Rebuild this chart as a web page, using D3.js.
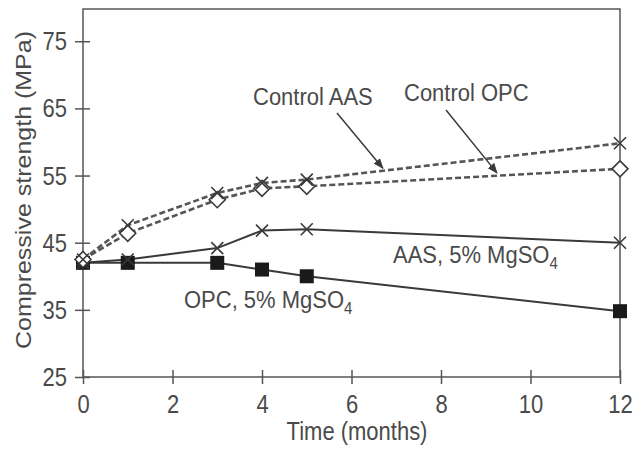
<!DOCTYPE html>
<html>
<head>
<meta charset="utf-8">
<script src="https://cdn.jsdelivr.net/npm/d3@7"></script>
<style>
  body { margin: 0; background: #fff; }
  text { font-family: "Liberation Sans", Arial, sans-serif; fill: #4a4a4a; }
</style>
</head>
<body>
<div id="chart"></div>
<script>
// data
var months = [0, 1, 3, 4, 5, 12];
var controlAAS = [42.5, 47.6, 52.4, 53.9, 54.4, 59.8];
var controlOPC = [42.5, 46.4, 51.4, 53.1, 53.4, 56];
var aasMgSO4 = [42, 42.5, 44.2, 46.8, 47, 45];
var opcMgSO4 = [42, 42, 42, 41, 40, 34.8];
var xTicks = [0, 2, 4, 6, 8, 10, 12];
var yTicks = [25, 35, 45, 55, 65, 75];

var width = 634, height = 449;
var stretch = 1.15; // the source image has slightly tall lettering

var svg = d3.select("#chart").append("svg")
  .attr("width", width)
  .attr("height", height);

var x = d3.scaleLinear().domain([0, 12]).range([83, 620]);
var y = d3.scaleLinear().domain([25, 79.8]).range([377, 9]);

var ink = "#3a3a3a";

// arrow head
svg.append("defs").append("marker")
  .attr("id", "arrow")
  .attr("viewBox", "0 0 10 10")
  .attr("refX", 9).attr("refY", 5)
  .attr("markerWidth", 7).attr("markerHeight", 7)
  .attr("orient", "auto")
  .append("path")
    .attr("d", "M0,1 L10,5 L0,9 z")
    .attr("fill", ink);

// frame
svg.append("rect")
  .attr("x", x(0)).attr("y", y(79.8))
  .attr("width", x(12) - x(0))
  .attr("height", y(25) - y(79.8))
  .attr("fill", "none")
  .attr("stroke", "#555")
  .attr("stroke-width", 1.5);

// X axis
var gx = svg.append("g")
  .attr("transform", "translate(0," + y(25) + ")")
  .call(d3.axisBottom(x).tickValues(xTicks).tickSizeOuter(0).tickSize(7));
gx.select(".domain").remove();
gx.selectAll(".tick line").attr("y1", -7).attr("y2", 7).attr("stroke", "#555").attr("stroke-width", 1.5);
gx.selectAll(".tick text")
  .attr("y", 18 / stretch).attr("dy", "0.71em")
  .attr("transform", "scale(1," + stretch + ")")
  .style("font-size", "22px")
  .style("font-family", "Liberation Sans, Arial, sans-serif")
  .attr("fill", "#4a4a4a");

// Y axis
var gy = svg.append("g")
  .attr("transform", "translate(" + x(0) + ",0)")
  .call(d3.axisLeft(y).tickValues(yTicks).tickSizeOuter(0).tickSize(8));
gy.select(".domain").remove();
gy.selectAll(".tick line").attr("x1", -8).attr("x2", 7).attr("stroke", "#555").attr("stroke-width", 1.5);
gy.selectAll(".tick text")
  .attr("x", -16).attr("dy", "0.34em")
  .attr("transform", "scale(1," + stretch + ")")
  .style("font-size", "22px")
  .style("font-family", "Liberation Sans, Arial, sans-serif")
  .attr("fill", "#4a4a4a");

// axis titles
svg.append("text")
  .attr("transform", "translate(357,440) scale(1," + stretch + ")")
  .attr("text-anchor", "middle")
  .style("font-size", "22px")
  .text("Time (months)");

svg.append("text")
  .attr("transform", "translate(31,190) rotate(-90)")
  .attr("text-anchor", "middle")
  .attr("textLength", 318)
  .attr("lengthAdjust", "spacingAndGlyphs")
  .style("font-size", "22px")
  .text("Compressive strength (MPa)");

function pts(vals) {
  return months.map(function(m, i) { return { t: m, v: vals[i] }; });
}
var line = d3.line()
  .x(function(d) { return x(d.t); })
  .y(function(d) { return y(d.v); });

// solid lines
[opcMgSO4, aasMgSO4].forEach(function(vals) {
  svg.append("path")
    .datum(pts(vals))
    .attr("fill", "none")
    .attr("stroke", ink)
    .attr("stroke-width", 2)
    .attr("d", line);
});

// dashed lines
[controlOPC, controlAAS].forEach(function(vals) {
  svg.append("path")
    .datum(pts(vals))
    .attr("fill", "none")
    .attr("stroke", "#555")
    .attr("stroke-width", 2.6)
    .attr("stroke-dasharray", "6,3")
    .attr("d", line);
});

// squares
svg.selectAll(".sq")
  .data(pts(opcMgSO4))
  .enter().append("rect")
    .attr("x", function(d) { return x(d.t) - 7; })
    .attr("y", function(d) { return y(d.v) - 7; })
    .attr("width", 14).attr("height", 14)
    .attr("fill", "#1a1a1a");

// crosses
function crosses(vals) {
  svg.selectAll(null)
    .data(pts(vals))
    .enter().append("path")
      .attr("transform", function(d) { return "translate(" + x(d.t) + "," + y(d.v) + ")"; })
      .attr("d", "M-6,-6L6,6M-6,6L6,-6")
      .attr("stroke", ink)
      .attr("stroke-width", 1.6)
      .attr("fill", "none");
}
crosses(aasMgSO4);

// diamonds
svg.selectAll(".dm")
  .data(pts(controlOPC))
  .enter().append("path")
    .attr("transform", function(d) { return "translate(" + x(d.t) + "," + y(d.v) + ")"; })
    .attr("d", "M0,-8L8,0L0,8L-8,0Z")
    .attr("fill", "#fff")
    .attr("stroke", ink)
    .attr("stroke-width", 1.6);

crosses(controlAAS);

// annotations
function label(px, py, str) {
  return svg.append("text")
    .attr("transform", "translate(" + px + "," + py + ") scale(1,1.1)")
    .style("font-size", "22px")
    .text(str);
}
label(253, 105, "Control AAS");
label(404, 101, "Control OPC");

svg.append("line")
  .attr("x1", 337).attr("y1", 113)
  .attr("x2", x(6.7)).attr("y2", y(56.1))
  .attr("stroke", ink).attr("stroke-width", 1.5)
  .attr("marker-end", "url(#arrow)");
svg.append("line")
  .attr("x1", 446).attr("y1", 110)
  .attr("x2", x(9.25)).attr("y2", y(55.4))
  .attr("stroke", ink).attr("stroke-width", 1.5)
  .attr("marker-end", "url(#arrow)");

function mgLabel(px, py, prefix) {
  var t = label(px, py, null);
  t.append("tspan").text(prefix + ", 5% MgSO");
  t.append("tspan").attr("dy", 5).style("font-size", "15px").text("4");
}
mgLabel(393, 263, "AAS");
mgLabel(184, 308, "OPC");
</script>
</body>
</html>
